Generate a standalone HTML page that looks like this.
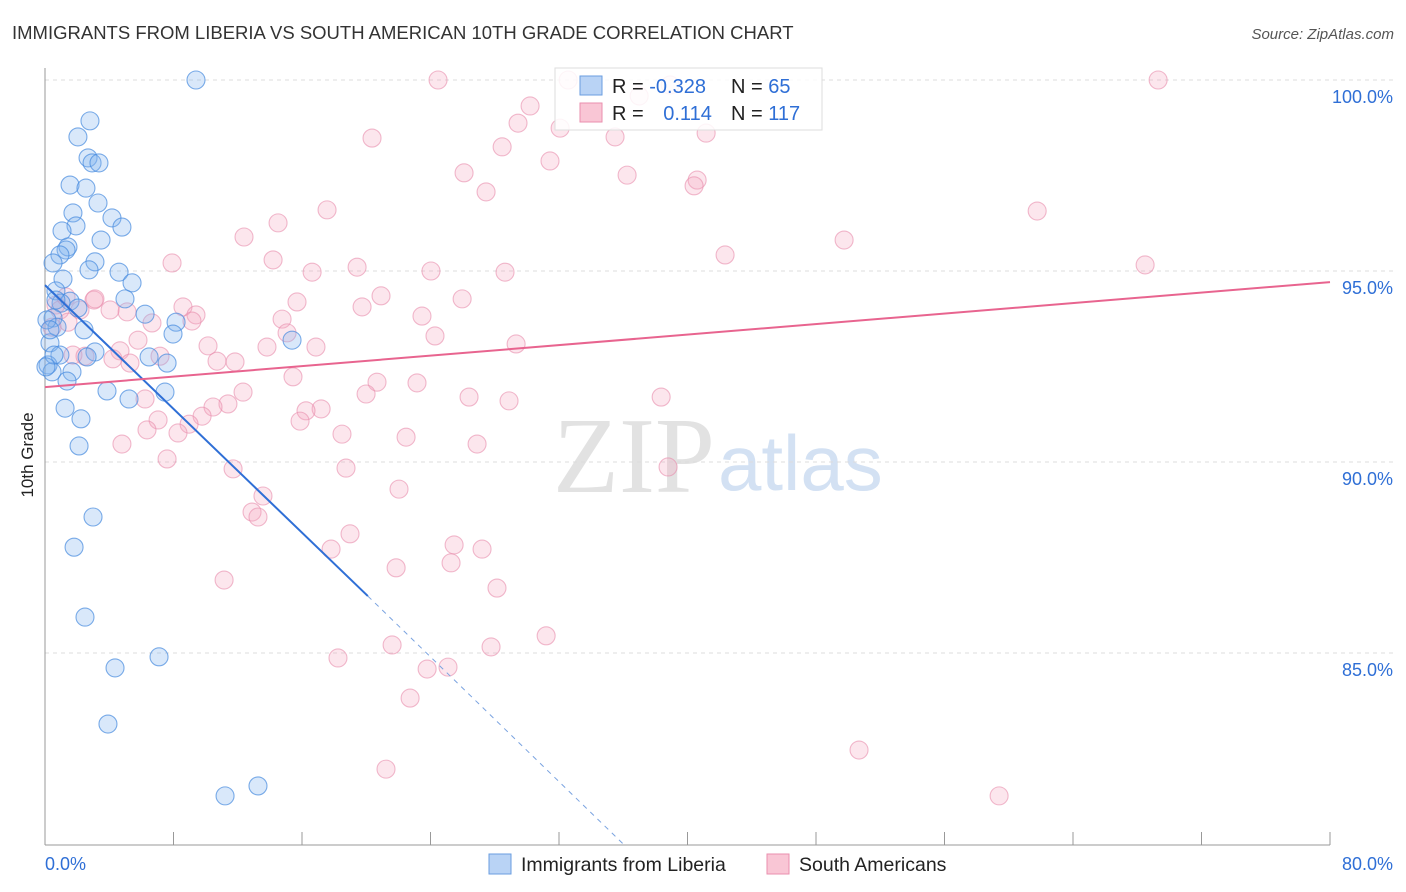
<!DOCTYPE html>
<html><head><meta charset="utf-8">
<style>
body{margin:0;background:#fff;font-family:"Liberation Sans",sans-serif;}
#wrap{position:relative;width:1406px;height:892px;overflow:hidden;}
</style></head>
<body>
<div id="wrap">
<svg id="chart" width="1406" height="892" xmlns="http://www.w3.org/2000/svg">
<text x="12" y="39" font-size="18.5" fill="#333">IMMIGRANTS FROM LIBERIA VS SOUTH AMERICAN 10TH GRADE CORRELATION CHART</text>
<text x="1394" y="39" font-size="15" fill="#555" font-style="italic" text-anchor="end">Source: ZipAtlas.com</text>
<text x="33" y="455" font-size="17" fill="#222" text-anchor="middle" transform="rotate(-90 33 455)">10th Grade</text>
<text x="715" y="492" font-size="108" fill="#e2e2e2" text-anchor="end" font-family="Liberation Serif,serif">ZIP</text>
<text x="718" y="490" font-size="78" fill="#d3e1f3">atlas</text>
<g id="grid"></g><g id="axes"></g><g id="pts"></g><g id="lines"></g>
<g>
<rect x="555" y="68" width="267" height="62" fill="#fff" fill-opacity="0.85" stroke="#ddd"/>
<rect x="580" y="76" width="22" height="19" fill="#b9d3f5" stroke="#6a9ee0"/>
<rect x="580" y="103" width="22" height="19" fill="#f9c6d5" stroke="#ea8fae"/>
<text x="612" y="93" font-size="20" fill="#222">R = <tspan fill="#2f6fd6">-0.328</tspan></text>
<text x="731" y="93" font-size="20" fill="#222">N = <tspan fill="#2f6fd6">65</tspan></text>
<text x="612" y="120" font-size="20" fill="#222">R = <tspan fill="#2f6fd6" dx="14">0.114</tspan></text>
<text x="731" y="120" font-size="20" fill="#222">N = <tspan fill="#2f6fd6">117</tspan></text>
</g>
<g>
<rect x="489" y="854" width="22" height="20" fill="#b9d3f5" stroke="#6a9ee0"/>
<text x="521" y="871" font-size="19.5" fill="#222">Immigrants from Liberia</text>
<rect x="767" y="854" width="22" height="20" fill="#f9c6d5" stroke="#ea8fae"/>
<text x="799" y="871" font-size="19.5" fill="#222">South Americans</text>
</g>
</svg>
</div>
<script>
const blueX=[9.40,2.80,2.05,2.68,2.93,3.36,1.56,2.55,3.30,4.17,1.74,4.79,1.93,1.06,3.49,1.43,1.31,0.93,0.50,3.11,2.74,4.61,1.12,5.42,0.68,4.98,1.56,1.00,2.05,6.23,8.16,0.50,7.97,0.75,2.43,15.38,0.31,3.11,0.93,2.62,6.48,7.60,0.19,0.44,1.68,1.37,3.86,7.47,5.23,1.25,2.24,2.12,2.99,1.81,2.49,4.36,7.10,3.92,11.21,13.26,0.12,0.31,0.56,0.06,0.68];
const blueY=[100.0,98.93,98.51,97.96,97.83,97.83,97.25,97.17,96.78,96.39,96.52,96.15,96.18,96.05,95.81,95.63,95.55,95.42,95.21,95.24,95.03,94.97,94.79,94.69,94.48,94.27,94.21,94.16,94.03,93.87,93.66,93.77,93.35,93.53,93.46,93.19,93.12,92.88,92.80,92.75,92.75,92.59,92.54,92.36,92.36,92.12,91.86,91.83,91.65,91.41,91.13,90.42,88.56,87.77,85.94,84.61,84.90,83.14,81.26,81.52,93.72,93.46,92.80,92.49,94.24];
const pinkX=[24.47,32.57,69.30,38.92,36.99,30.20,29.45,20.36,28.46,32.07,35.49,41.16,31.44,26.09,36.24,27.46,40.60,40.41,61.77,17.56,14.51,12.39,42.34,49.75,7.91,14.20,16.63,19.43,24.03,28.64,68.49,20.92,15.69,25.97,19.74,23.47,3.05,8.59,9.40,5.11,4.05,6.66,9.15,14.76,15.07,24.28,13.82,16.87,10.15,11.83,10.71,5.79,29.33,4.67,7.16,5.29,4.23,1.74,2.49,0.68,1.31,3.11,0.93,1.43,2.18,0.44,15.44,20.67,23.16,19.99,26.40,28.89,38.36,12.33,11.39,10.46,6.23,17.19,16.25,15.88,9.78,8.97,7.04,6.35,8.28,18.49,22.48,26.90,4.79,7.60,11.71,18.74,38.79,13.57,22.04,12.89,13.26,18.99,17.81,25.47,27.21,25.28,21.86,28.14,11.15,31.20,21.61,27.77,18.24,23.79,25.09,22.73,50.68,21.23,59.40];
const pinkY=[100.0,100.0,100.0,99.87,99.58,99.32,98.87,98.48,98.25,98.74,98.51,98.61,97.88,97.57,97.51,97.07,97.38,97.23,96.57,96.60,96.26,95.89,95.42,95.81,95.21,95.29,94.97,95.10,95.00,94.97,95.16,94.35,94.19,94.27,94.06,93.82,94.24,94.06,93.85,93.93,93.98,93.64,93.69,93.74,93.38,93.30,93.01,93.01,93.04,92.62,92.64,93.19,93.09,92.91,92.77,92.59,92.70,92.80,92.77,94.11,94.32,94.27,93.98,93.66,93.98,93.53,92.23,92.09,92.07,91.78,91.70,91.60,91.70,91.83,91.52,91.44,91.65,91.39,91.34,91.07,91.20,90.99,91.10,90.84,90.76,90.73,90.65,90.47,90.47,90.08,89.82,89.84,89.87,89.11,89.29,88.69,88.56,88.12,87.72,87.83,87.72,87.36,87.23,86.70,86.91,85.45,85.21,85.16,84.87,84.58,84.63,83.82,82.46,81.96,81.26];
const yTicks=[100,95,90,85];
const yTickLabels=["100.0%","95.0%","90.0%","85.0%"];
const xTicks=[0,8,16,24,32,40,48,56,64,72,80];
const blueTrend=[[0,94.63],[20.1,86.49],[36,80]];
const pinkTrend=[[0,91.96],[80,94.71]];
const NS="http://www.w3.org/2000/svg";
const X=v=>45+v/80*1285;
const Y=v=>80+(100-v)*38.2;
function mk(tag,attrs,parent){const e=document.createElementNS(NS,tag);for(const k in attrs)e.setAttribute(k,attrs[k]);parent.appendChild(e);return e;}
const grid=document.getElementById('grid'),axes=document.getElementById('axes'),pts=document.getElementById('pts'),lines=document.getElementById('lines');
yTicks.forEach((t,i)=>{
 const l=mk('line',{x1:45,x2:1393,y1:Y(t),y2:Y(t),stroke:'#dcdcdc','stroke-dasharray':'4,4'},grid);
 
 
 const tx=mk('text',{x:1393,y:Y(t)+23,'font-size':18,fill:'#2f6fd6','text-anchor':'end'},axes);
 tx.textContent=yTickLabels[i];
 
 
});
const ya=mk('line',{x1:45,x2:45,y1:68,y2:845,stroke:'#999'},axes);


const xa=mk('line',{x1:45,x2:1330,y1:845,y2:845,stroke:'#999'},axes);


xTicks.forEach(t=>{const l=mk('line',{x1:X(t),x2:X(t),y1:832,y2:845,stroke:'#999'},axes);
 
 });
const x0=mk('text',{x:45,y:870,'font-size':18,fill:'#2f6fd6'},axes);x0.textContent='0.0%';


const x1=mk('text',{x:1393,y:870,'font-size':18,fill:'#2f6fd6','text-anchor':'end'},axes);x1.textContent='80.0%';


pinkX.forEach((v,i)=>{const c=mk('circle',{cx:X(v),cy:Y(pinkY[i]),r:9,fill:'rgba(244,165,192,0.28)',stroke:'rgba(232,140,172,0.6)','stroke-width':1.1},pts);
 
 });
blueX.forEach((v,i)=>{const c=mk('circle',{cx:X(v),cy:Y(blueY[i]),r:9,fill:'rgba(130,178,238,0.3)',stroke:'rgba(70,138,222,0.7)','stroke-width':1.1},pts);
 
 });
const b1=mk('line',{x1:X(blueTrend[0][0]),y1:Y(blueTrend[0][1]),x2:X(blueTrend[1][0]),y2:Y(blueTrend[1][1]),stroke:'#2f6fd6','stroke-width':2},lines);


const b2=mk('line',{x1:X(blueTrend[1][0]),y1:Y(blueTrend[1][1]),x2:X(blueTrend[2][0]),y2:Y(blueTrend[2][1]),stroke:'#7aa3e0','stroke-width':1,'stroke-dasharray':'5,5'},lines);


const p1=mk('line',{x1:X(pinkTrend[0][0]),y1:Y(pinkTrend[0][1]),x2:X(pinkTrend[1][0]),y2:Y(pinkTrend[1][1]),stroke:'#e8648f','stroke-width':2},lines);


</script>
</body></html>
